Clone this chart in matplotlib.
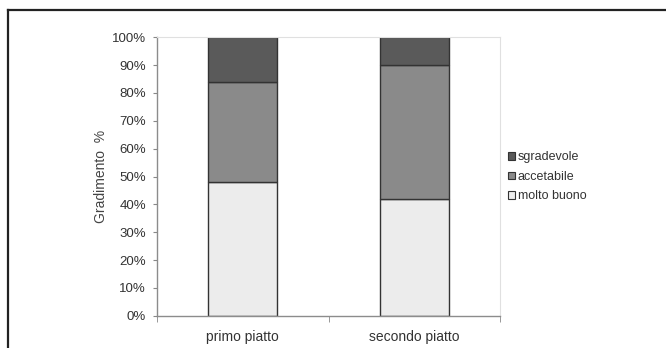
import matplotlib
matplotlib.use("Agg")
import matplotlib.pyplot as plt
from matplotlib.lines import Line2D
from matplotlib.patches import Patch
from matplotlib.ticker import PercentFormatter

# stacked shares (%) for each dish
piatti = ["primo piatto", "secondo piatto"]
molto_buono = [48, 42]
accetabile = [36, 48]
sgradevole = [16, 10]

colori = {"molto buono": "#ececec", "accetabile": "#8a8a8a", "sgradevole": "#5a5a5a"}

plt.rcParams["font.family"] = ["Liberation Sans", "DejaVu Sans"]

W, H = 666, 348
fig = plt.figure(figsize=(W / 100, H / 100), dpi=100)
fig.patch.set_facecolor("white")

# outer frame (only top and left edges show)
fig.add_artist(Line2D([8 / W, 1], [1 - 10 / H, 1 - 10 / H], transform=fig.transFigure,
                      color="#222222", lw=1.6))
fig.add_artist(Line2D([8 / W, 8 / W], [0, 1 - 10 / H], transform=fig.transFigure,
                      color="#222222", lw=1.6))

left, right, top, bottom = 157, 500, 37.3, 315.7
ax = fig.add_axes([left / W, 1 - bottom / H, (right - left) / W, (bottom - top) / H])

x = list(range(len(piatti)))
w = 0.4
ax.bar(x, molto_buono, w, color=colori["molto buono"], edgecolor="#333333", lw=1.0,
       label="molto buono")
ax.bar(x, accetabile, w, bottom=molto_buono, color=colori["accetabile"],
       edgecolor="#333333", lw=1.0, label="accetabile")
base = [a + b for a, b in zip(molto_buono, accetabile)]
ax.bar(x, sgradevole, w, bottom=base, color=colori["sgradevole"],
       edgecolor="#333333", lw=1.0, label="sgradevole")

ax.set_xlim(-0.5, 1.5)
ax.set_ylim(0, 100)
ax.set_yticks(range(0, 101, 10))
ax.yaxis.set_major_formatter(PercentFormatter(decimals=0))
ax.set_xticks(x)
ax.set_xticklabels(piatti)
ax.set_xticks([-0.5, 0.5, 1.5], minor=True)
ax.tick_params(axis="x", which="major", length=0, pad=10, labelsize=10, labelcolor="#333333")
ax.tick_params(axis="x", which="minor", length=4, color="#888888", direction="out")
ax.tick_params(axis="y", length=3, color="#888888", pad=5, labelsize=9.5, labelcolor="#333333")

for s in ["left", "bottom"]:
    ax.spines[s].set_color("#8c8c8c")
    ax.spines[s].set_linewidth(1.0)
for s in ["top", "right"]:
    ax.spines[s].set_color("#e0e0e0")
    ax.spines[s].set_linewidth(0.8)

ax.set_ylabel("Gradimento  %", fontsize=10, color="#444444")
ax.yaxis.set_label_coords(-0.143, 0.5)

handles = [Patch(facecolor=colori[k], edgecolor="#333333", lw=0.8)
           for k in ["sgradevole", "accetabile", "molto buono"]]
fig.legend(handles, ["sgradevole", "accetabile", "molto buono"],
           loc="upper left", bbox_to_anchor=(502 / W, 1 - 145 / H),
           frameon=False, fontsize=9, handlelength=0.55, handleheight=0.55,
           handletextpad=0.2, labelspacing=0.6, borderpad=0, labelcolor="#333333")

fig.savefig("out.png", dpi=100)
